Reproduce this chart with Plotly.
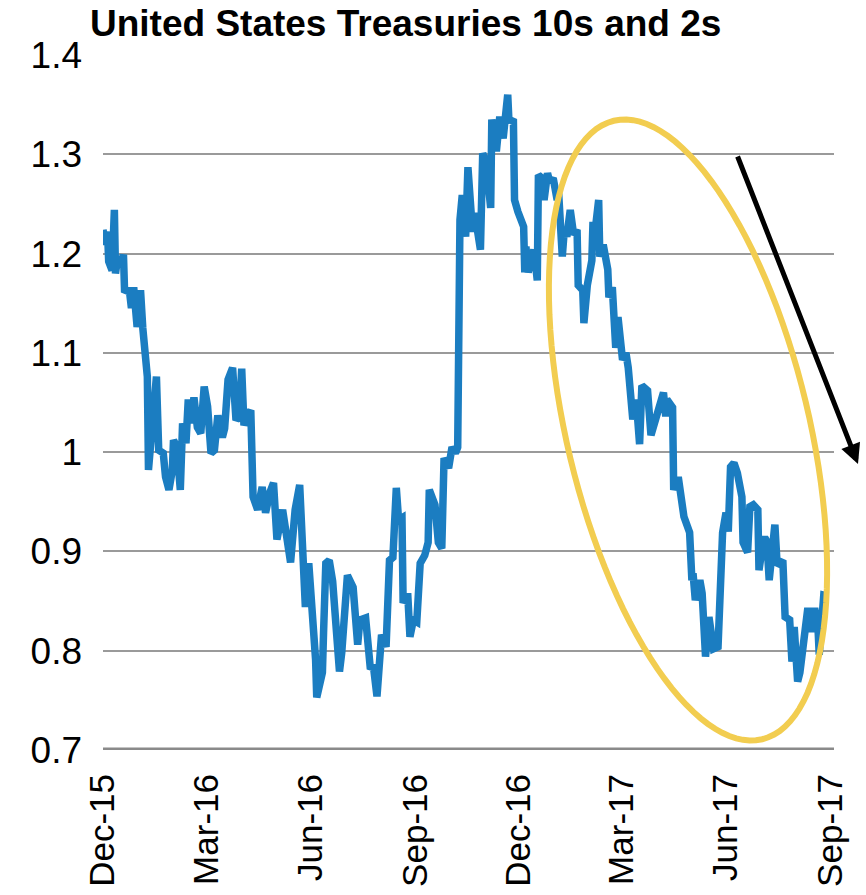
import math
import plotly.graph_objects as go

# 10y minus 2y US Treasury yield spread (percentage points)
dates = [
    "2015-12-01", "2015-12-03", "2015-12-05", "2015-12-06", "2015-12-09", "2015-12-11",
    "2015-12-12", "2015-12-14", "2015-12-17", "2015-12-19", "2015-12-20", "2015-12-24",
    "2015-12-26", "2015-12-28", "2015-12-31", "2016-01-03", "2016-01-05", "2016-01-09",
    "2016-01-10", "2016-01-12", "2016-01-17", "2016-01-19", "2016-01-23", "2016-01-25",
    "2016-01-28", "2016-01-31", "2016-02-01", "2016-02-04", "2016-02-07", "2016-02-09",
    "2016-02-12", "2016-02-14", "2016-02-16", "2016-02-19", "2016-02-22", "2016-02-25",
    "2016-02-28", "2016-03-02", "2016-03-05", "2016-03-08", "2016-03-11", "2016-03-15",
    "2016-03-17", "2016-03-20", "2016-03-24", "2016-03-27", "2016-03-30", "2016-04-01",
    "2016-04-03", "2016-04-06", "2016-04-09", "2016-04-11", "2016-04-15", "2016-04-19",
    "2016-04-22", "2016-04-26", "2016-04-29", "2016-05-02", "2016-05-07", "2016-05-14",
    "2016-05-18", "2016-05-22", "2016-05-27", "2016-05-30", "2016-06-04", "2016-06-05",
    "2016-06-06", "2016-06-11", "2016-06-12", "2016-06-14", "2016-06-17", "2016-06-20",
    "2016-06-26", "2016-06-28", "2016-07-03", "2016-07-06", "2016-07-08", "2016-07-12",
    "2016-07-14", "2016-07-19", "2016-07-23", "2016-07-26", "2016-07-29", "2016-08-02",
    "2016-08-06", "2016-08-09", "2016-08-12", "2016-08-15", "2016-08-17", "2016-08-20",
    "2016-08-21", "2016-08-25", "2016-08-27", "2016-08-30", "2016-09-02", "2016-09-05",
    "2016-09-09", "2016-09-12", "2016-09-13", "2016-09-18", "2016-09-21", "2016-09-24",
    "2016-09-26", "2016-09-30", "2016-10-03", "2016-10-06", "2016-10-08", "2016-10-10",
    "2016-10-12", "2016-10-15", "2016-10-17", "2016-10-21", "2016-10-23", "2016-10-28",
    "2016-10-30", "2016-11-02", "2016-11-06", "2016-11-07", "2016-11-11", "2016-11-14",
    "2016-11-17", "2016-11-21", "2016-11-22", "2016-11-26", "2016-11-27", "2016-11-30",
    "2016-12-05", "2016-12-06", "2016-12-07", "2016-12-09", "2016-12-14", "2016-12-17",
    "2016-12-18", "2016-12-21", "2016-12-23", "2016-12-26", "2016-12-28", "2016-12-31",
    "2017-01-03", "2017-01-05", "2017-01-08", "2017-01-10", "2017-01-12", "2017-01-15",
    "2017-01-18", "2017-01-21", "2017-01-22", "2017-01-26", "2017-01-27", "2017-01-30",
    "2017-02-02", "2017-02-03", "2017-02-04", "2017-02-06", "2017-02-09", "2017-02-10",
    "2017-02-13", "2017-02-17", "2017-02-18", "2017-02-21", "2017-02-24", "2017-02-26",
    "2017-03-02", "2017-03-05", "2017-03-07", "2017-03-11", "2017-03-14", "2017-03-17",
    "2017-03-19", "2017-03-24", "2017-03-27", "2017-03-31", "2017-04-04", "2017-04-07",
    "2017-04-09", "2017-04-10", "2017-04-15", "2017-04-16", "2017-04-20", "2017-04-25",
    "2017-04-30", "2017-05-02", "2017-05-03", "2017-05-05", "2017-05-09", "2017-05-11",
    "2017-05-14", "2017-05-17", "2017-05-21", "2017-05-25", "2017-05-29", "2017-06-01",
    "2017-06-03", "2017-06-05", "2017-06-08", "2017-06-11", "2017-06-15", "2017-06-16",
    "2017-06-20", "2017-06-22", "2017-06-25", "2017-06-29", "2017-06-30", "2017-07-04",
    "2017-07-06", "2017-07-07", "2017-07-09", "2017-07-14", "2017-07-16", "2017-07-21",
    "2017-07-22", "2017-07-23", "2017-07-27", "2017-07-29", "2017-07-31", "2017-08-03",
    "2017-08-05", "2017-08-08", "2017-08-12", "2017-08-15", "2017-08-18", "2017-08-21",
    "2017-08-22", "2017-08-26", "2017-08-30",
]

spread = [
    1.224, 1.209, 1.222, 1.192, 1.183, 1.244,
    1.180, 1.197, 1.187, 1.199, 1.161, 1.165,
    1.145, 1.166, 1.126, 1.163, 1.125, 1.076,
    0.982, 1.015, 1.076, 1.002, 0.999, 0.975,
    0.962, 0.982, 1.012, 1.005, 0.962, 1.029,
    1.009, 1.053, 1.029, 1.055, 1.025, 1.019,
    1.066, 1.046, 0.999, 1.002, 1.037, 1.015,
    1.024, 1.073, 1.085, 1.032, 1.037, 1.084,
    1.027, 1.037, 1.042, 0.955, 0.942, 0.965,
    0.939, 0.960, 0.969, 0.912, 0.942, 0.889,
    0.942, 0.967, 0.844, 0.888, 0.824, 0.791,
    0.753, 0.778, 0.818, 0.888, 0.891, 0.870,
    0.779, 0.798, 0.876, 0.866, 0.864, 0.806,
    0.831, 0.833, 0.784, 0.783, 0.754, 0.816,
    0.804, 0.891, 0.894, 0.964, 0.932, 0.934,
    0.848, 0.858, 0.814, 0.831, 0.829, 0.888,
    0.896, 0.909, 0.962, 0.947, 0.909, 0.903,
    0.994, 0.984, 1.005, 0.999, 1.005, 1.234,
    1.259, 1.217, 1.287, 1.222, 1.241, 1.204,
    1.301, 1.292, 1.246, 1.335, 1.303, 1.338,
    1.316, 1.360, 1.335, 1.333, 1.254, 1.242,
    1.227, 1.181, 1.207, 1.181, 1.204, 1.173,
    1.279, 1.276, 1.254, 1.281, 1.272, 1.276,
    1.257, 1.257, 1.197, 1.227, 1.217, 1.244,
    1.219, 1.224, 1.168, 1.163, 1.130, 1.168,
    1.190, 1.193, 1.232, 1.224, 1.254, 1.197,
    1.209, 1.184, 1.156, 1.166, 1.105, 1.136,
    1.093, 1.100, 1.085, 1.033, 1.053, 1.008,
    1.067, 1.062, 1.017, 1.033, 1.053, 1.060,
    1.036, 1.053, 1.045, 0.962, 0.975, 0.935,
    0.919, 0.871, 0.878, 0.851, 0.871, 0.858,
    0.794, 0.834, 0.802, 0.804, 0.919, 0.939,
    0.920, 0.985, 0.989, 0.979, 0.955, 0.909,
    0.899, 0.945, 0.947, 0.942, 0.881, 0.912,
    0.912, 0.910, 0.871, 0.927, 0.886, 0.891,
    0.864, 0.834, 0.831, 0.789, 0.824, 0.769,
    0.778, 0.804, 0.843, 0.819, 0.843, 0.821,
    0.796, 0.856, 0.855,
]

tick_dates = ["2015-12-01", "2016-03-01", "2016-06-01", "2016-09-01",
              "2016-12-01", "2017-03-01", "2017-06-01", "2017-09-01"]
tick_labels = ["Dec-15", "Mar-16", "Jun-16", "Sep-16",
               "Dec-16", "Mar-17", "Jun-17", "Sep-17"]
y_ticks = [0.7, 0.8, 0.9, 1.0, 1.1, 1.2, 1.3, 1.4]
y_labels = ["0.7", "0.8", "0.9", "1", "1.1", "1.2", "1.3", "1.4"]

W, H = 866, 895
M_L, M_R, M_T, M_B = 103, 32, 55, 145
PW, PH = W - M_L - M_R, H - M_T - M_B

fig = go.Figure()
fig.add_trace(go.Scatter(
    x=dates, y=spread, mode="lines",
    line=dict(color="#1B7DC1", width=7.5),
    hoverinfo="x+y", showlegend=False,
))


def ellipse_path(cx, cy, a, b, tilt_deg, n=120):
    """Closed SVG path (paper coords) of a tilted ellipse given in plot pixels."""
    t = math.radians(tilt_deg)
    pts = []
    for i in range(n + 1):
        s = 2 * math.pi * i / n
        # major axis along the vertical, rotated so the top leans left
        ex, ey = b * math.cos(s), a * math.sin(s)
        px = cx + ex * math.cos(t) - ey * math.sin(t)
        py = cy + ex * math.sin(t) + ey * math.cos(t)
        pts.append((px / PW, py / PH))
    return "M " + " L ".join(f"{x:.5f},{y:.5f}" for x, y in pts) + " Z"


# highlight of the 2017 flattening
fig.add_shape(
    type="path", xref="paper", yref="paper",
    path=ellipse_path(585, 320, 318, 121, 13.5),
    line=dict(color="#F2CD50", width=6), fillcolor="rgba(0,0,0,0)",
)

# downward-trend arrow
fig.add_annotation(
    xref="paper", yref="paper",
    x=(858 - M_L) / PW, y=(H - M_B - 464) / PH,
    ax=737 - 858, ay=155 - 464, axref="pixel", ayref="pixel",
    showarrow=True, arrowhead=2, arrowsize=0.8, arrowwidth=5,
    arrowcolor="#000000", text="",
)

fig.update_layout(
    width=W, height=H,
    margin=dict(l=M_L, r=M_R, t=M_T, b=M_B),
    paper_bgcolor="white", plot_bgcolor="white",
    title=dict(
        text="<b>United States Treasuries 10s and 2s</b>",
        xref="container", yref="container",
        x=90 / W, xanchor="left", y=1 - 23 / H, yanchor="middle",
        font=dict(family="Liberation Sans, Arial", size=37, color="#000000"),
    ),
    font=dict(family="Liberation Sans, Arial", color="#000000"),
)

fig.update_xaxes(
    type="date",
    range=["2015-12-01", "2017-09-04"],
    tickvals=tick_dates, ticktext=tick_labels,
    tickangle=-90, tickfont=dict(size=35),
    showgrid=False, zeroline=False, automargin=False,
    showline=False, ticks="", ticklabelstandoff=16,
)

fig.update_yaxes(
    range=[0.7, 1.4],
    tickvals=y_ticks, ticktext=y_labels,
    tickfont=dict(size=37), automargin=False,
    showgrid=True, gridcolor="#9A9A9A", gridwidth=2,
    zeroline=False, showline=False, ticks="", ticklabelstandoff=20,
)

# heavy baseline along the bottom of the plot
fig.add_shape(type="line", xref="paper", yref="y", x0=0, x1=1, y0=0.7, y1=0.7,
              line=dict(color="#8A8A8A", width=5), layer="below")

fig.write_html("out.html")
